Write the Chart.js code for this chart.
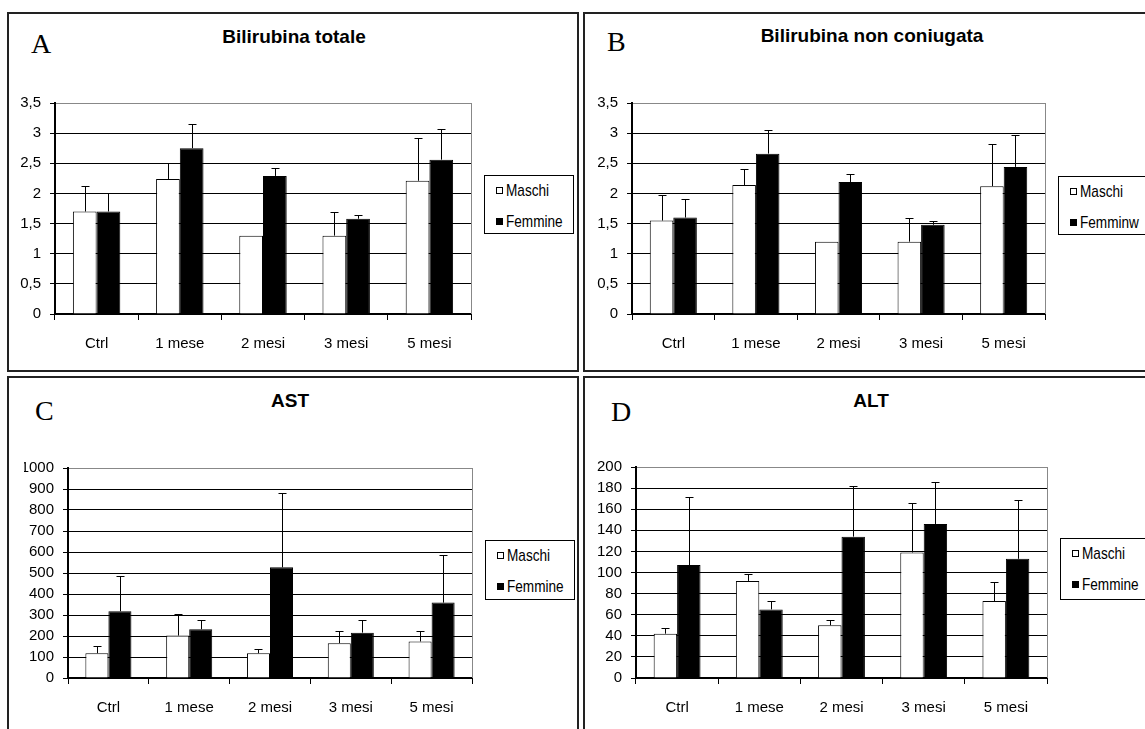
<!DOCTYPE html>
<html>
<head>
<meta charset="utf-8">
<script src="https://cdn.jsdelivr.net/npm/chart.js@4.4.0/dist/chart.umd.min.js"></script>
<style>
  body { margin: 0; background: #fff; width: 1145px; height: 729px; overflow: hidden; position: relative;
         font-family: "Liberation Sans", Arial, sans-serif; }
  .panel { position: absolute; border: 2px solid #222; box-sizing: border-box; }
  canvas.chart { position: absolute; }
  .letter { position: absolute; font-family: "Liberation Serif", "Times New Roman", serif; font-size: 28px; line-height: 28px; }
  .title { position: absolute; font-weight: bold; font-size: 19px; line-height: 19px; transform: translateX(-50%); white-space: nowrap; }
  .legend { position: absolute; border: 1px solid #000; background: #fff; box-sizing: border-box; font-size: 17px; }
  .legend .row { position: absolute; left: 11px; height: 17px; line-height: 17px; display: flex; align-items: center; white-space: nowrap; }
  .legend .sw { width: 5px; height: 5px; border: 1px solid #000; margin-right: 3px; }
  .legend .tx { display: inline-block; transform: scaleX(0.8); transform-origin: left center; }
</style>
</head>
<body>
<script>
const categories = ['Ctrl', '1 mese', '2 mesi', '3 mesi', '5 mesi'];

// A - Bilirubina totale
const biliTotMaschi = [1.70, 2.24, 1.30, 1.30, 2.21];
const biliTotMaschiErr = [0.42, 0.26, 0, 0.39, 0.71];
const biliTotFemmine = [1.70, 2.75, 2.29, 1.58, 2.56];
const biliTotFemmineErr = [0.31, 0.40, 0.14, 0.07, 0.51];

// B - Bilirubina non coniugata
const biliNcMaschi = [1.55, 2.14, 1.20, 1.20, 2.12];
const biliNcMaschiErr = [0.43, 0.27, 0, 0.39, 0.70];
const biliNcFemmine = [1.60, 2.66, 2.19, 1.48, 2.44];
const biliNcFemmineErr = [0.31, 0.39, 0.14, 0.06, 0.53];

// C - AST
const astMaschi = [118, 202, 118, 166, 174];
const astMaschiErr = [36, 105, 21, 58, 50];
const astFemmine = [318, 232, 527, 216, 359];
const astFemmineErr = [166, 42, 354, 58, 226];

// D - ALT
const altMaschi = [42, 92, 50, 119, 73];
const altMaschiErr = [5, 7, 5, 47, 18];
const altFemmine = [107, 65, 134, 146, 113];
const altFemmineErr = [65, 8, 48, 40, 56];

// y axis ranges (max, step)
const biliAxis = [3.5, 0.5];
const astAxis = [1000, 100];
const altAxis = [200, 20];

const panels = [
  { letter: 'A', title: 'Bilirubina totale', legend: ['Maschi', 'Femmine'],
    m: biliTotMaschi, mErr: biliTotMaschiErr, f: biliTotFemmine, fErr: biliTotFemmineErr, axis: biliAxis,
    box: [7, 12, 572, 360], area: [55, 100, 471, 314], letterPos: [31, 30], titlePos: [294, 27], legendBox: [484, 175, 90, 59] },
  { letter: 'B', title: 'Bilirubina non coniugata', legend: ['Maschi', 'Femminw'],
    m: biliNcMaschi, mErr: biliNcMaschiErr, f: biliNcFemmine, fErr: biliNcFemmineErr, axis: biliAxis,
    box: [583, 12, 600, 360], area: [632, 100, 1045, 314], letterPos: [607, 28], titlePos: [872, 26], legendBox: [1058, 176, 100, 59] },
  { letter: 'C', title: 'AST', legend: ['Maschi', 'Femmine'],
    m: astMaschi, mErr: astMaschiErr, f: astFemmine, fErr: astFemmineErr, axis: astAxis,
    box: [7, 376, 572, 400], area: [68, 465, 472, 678], letterPos: [35, 397], titlePos: [290, 391], legendBox: [485, 540, 90, 60] },
  { letter: 'D', title: 'ALT', legend: ['Maschi', 'Femmine'],
    m: altMaschi, mErr: altMaschiErr, f: altFemmine, fErr: altFemmineErr, axis: altAxis,
    box: [583, 376, 600, 400], area: [636, 464, 1047, 678], letterPos: [611, 398], titlePos: [871, 391], legendBox: [1060, 538, 100, 62] }
];

const errorBars = {
  id: 'errorBars',
  afterDatasetsDraw(chart) {
    const { ctx } = chart;
    const y = chart.scales.y;
    chart.data.datasets.forEach((ds, i) => {
      chart.getDatasetMeta(i).data.forEach((bar, j) => {
        const err = ds.errors[j];
        if (!err) return;
        const top = Math.round(y.getPixelForValue(ds.data[j] + err)) + 0.5;
        const x = Math.round(bar.x) + 0.5;
        ctx.save();
        ctx.strokeStyle = '#000';
        ctx.lineWidth = 1;
        ctx.beginPath();
        ctx.moveTo(x, bar.y);
        ctx.lineTo(x, top);
        ctx.moveTo(x - 4, top);
        ctx.lineTo(x + 4, top);
        ctx.stroke();
        ctx.restore();
      });
    });
  }
};

// gray right edge of the plot area
const plotEdge = {
  id: 'plotEdge',
  beforeDatasetsDraw(chart) {
    const { ctx, chartArea } = chart;
    ctx.save();
    ctx.strokeStyle = '#888';
    ctx.lineWidth = 1;
    ctx.beginPath();
    ctx.moveTo(Math.round(chartArea.right) + 0.5, chartArea.top);
    ctx.lineTo(Math.round(chartArea.right) + 0.5, chartArea.bottom);
    ctx.stroke();
    ctx.restore();
  }
};

const Y_W = 44, X_H = 40;

function el(cls, text, css) {
  const d = document.createElement('div');
  d.className = cls;
  if (text) d.textContent = text;
  Object.assign(d.style, css);
  document.body.appendChild(d);
  return d;
}

panels.forEach(p => {
  el('panel', null, { left: p.box[0] + 'px', top: p.box[1] + 'px', width: p.box[2] + 'px', height: p.box[3] + 'px' });
  el('letter', p.letter, { left: p.letterPos[0] + 'px', top: p.letterPos[1] + 'px' });
  el('title', p.title, { left: p.titlePos[0] + 'px', top: p.titlePos[1] + 'px' });

  const [l, t, r, b] = p.area;
  const cx = l - 50, cy = t - 15, cw = (r - l) + 60, ch = (b - t) + 60;
  const canvas = document.createElement('canvas');
  canvas.className = 'chart';
  canvas.width = cw; canvas.height = ch;
  canvas.style.left = cx + 'px'; canvas.style.top = cy + 'px';
  canvas.style.width = cw + 'px'; canvas.style.height = ch + 'px';
  document.body.appendChild(canvas);

  const [yMax, yStep] = p.axis;
  new Chart(canvas.getContext('2d'), {
    type: 'bar',
    data: {
      labels: categories,
      datasets: [
        { label: p.legend[0], data: p.m, errors: p.mErr, backgroundColor: '#fff', borderColor: '#000', borderWidth: 1 },
        { label: p.legend[1], data: p.f, errors: p.fErr, backgroundColor: '#000', borderColor: '#000', borderWidth: 1 }
      ]
    },
    options: {
      responsive: false,
      animation: false,
      devicePixelRatio: 1,
      categoryPercentage: 0.57,
      barPercentage: 1,
      layout: { padding: { left: 50 - Y_W, top: 15, right: 10, bottom: 60 - 15 - X_H } },
      plugins: { legend: { display: false }, tooltip: { enabled: false }, title: { display: false } },
      scales: {
        x: {
          afterFit: s => { s.height = X_H; },
          grid: { drawOnChartArea: false, color: '#000', tickColor: '#000', tickLength: 6 },
          border: { color: '#000', width: 2 },
          ticks: { color: '#000', padding: 15, font: { family: 'Liberation Sans', size: 15 } }
        },
        y: {
          min: 0, max: yMax,
          afterFit: s => { s.width = Y_W; },
          grid: {
            color: c => (c.tick && c.tick.value === yMax ? '#888' : '#000'),
            tickColor: '#000', tickLength: 5, lineWidth: 1
          },
          border: { color: '#000', width: 2 },
          ticks: {
            stepSize: yStep, color: '#000', padding: 9,
            font: { family: 'Liberation Sans', size: 15 },
            callback: v => String(v).replace('.', ',')
          }
        }
      }
    },
    plugins: [plotEdge, errorBars]
  });

  const lg = el('legend', null, { left: p.legendBox[0] + 'px', top: p.legendBox[1] + 'px',
                                  width: p.legendBox[2] + 'px', height: p.legendBox[3] + 'px' });
  p.legend.forEach((name, i) => {
    const row = document.createElement('div');
    row.className = 'row';
    row.style.top = (i === 0 ? 6 : 37) + 'px';
    const sw = document.createElement('span');
    sw.className = 'sw';
    sw.style.background = i === 0 ? '#fff' : '#000';
    const tx = document.createElement('span');
    tx.className = 'tx';
    tx.textContent = name;
    row.appendChild(sw); row.appendChild(tx);
    lg.appendChild(row);
  });
});
</script>
</body>
</html>
